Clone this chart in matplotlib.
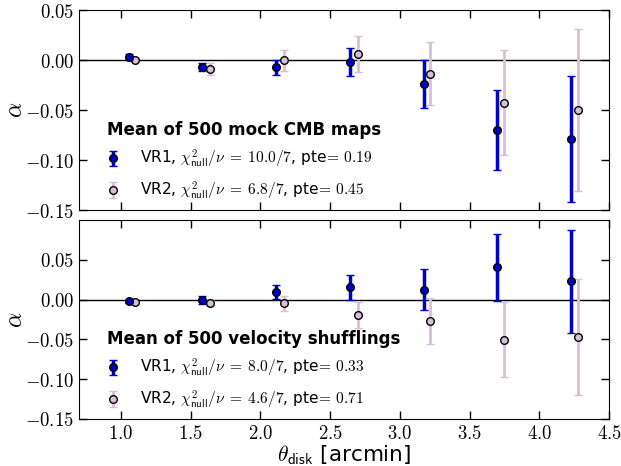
import numpy as np
import matplotlib
matplotlib.use('Agg')
import matplotlib.pyplot as plt
from matplotlib.ticker import FuncFormatter, MultipleLocator

plt.rcParams['mathtext.fontset'] = 'cm'
plt.rcParams['font.family'] = 'DejaVu Sans'

# --- data ---
x_vr1 = [1.06, 1.58, 2.11, 2.64, 3.17, 3.70, 4.23]
x_vr2 = [1.10, 1.64, 2.17, 2.70, 3.22, 3.75, 4.28]

# top: mock CMB maps
cmb_vr1 = [0.0027, -0.0067, -0.0070, -0.0020, -0.0240, -0.0700, -0.0785]
cmb_vr1_err = [0.003, 0.004, 0.0075, 0.014, 0.024, 0.040, 0.063]
cmb_vr2 = [0.0000, -0.0093, -0.0003, 0.0063, -0.0135, -0.0427, -0.0500]
cmb_vr2_err = [0.002, 0.006, 0.0105, 0.018, 0.0315, 0.0525, 0.081]

# bottom: velocity shufflings
vel_vr1 = [-0.0020, 0.0000, 0.0092, 0.0155, 0.0126, 0.0406, 0.0230]
vel_vr1_err = [0.002, 0.005, 0.009, 0.0155, 0.026, 0.042, 0.065]
vel_vr2 = [-0.0034, -0.0040, -0.0046, -0.0190, -0.0264, -0.0506, -0.0473]
vel_vr2_err = [0.002, 0.004, 0.0095, 0.0165, 0.029, 0.047, 0.073]

panels = [
    ('Mean of 500 mock CMB maps', cmb_vr1, cmb_vr1_err, cmb_vr2, cmb_vr2_err,
     ['10.0/7', '0.19'], ['6.8/7', '0.45'], (-0.15, 0.05)),
    ('Mean of 500 velocity shufflings', vel_vr1, vel_vr1_err, vel_vr2, vel_vr2_err,
     ['8.0/7', '0.33'], ['4.6/7', '0.71'], (-0.15, 0.10)),
]

blue = '#0000cc'
pink = '#d8bfd8'

fig = plt.figure(figsize=(6.21, 4.66), dpi=100)
ax_top = fig.add_axes([79/621, 1 - 210/466, 530/621, 200/466])
ax_bot = fig.add_axes([79/621, 1 - 419/466, 530/621, 199/466])

fmt = FuncFormatter(lambda v, p: r'$%.2f$' % v if abs(v) > 1e-9 else r'$0.00$')
xfmt = FuncFormatter(lambda v, p: r'$%.1f$' % v)

def lab(name, chi, pte):
    return (r'%s, $\chi^2_{\mathsf{null}}/\nu\;=\;%s$, pte$\!=\!$ $%s$'
            % (name, chi, pte))

for ax, (title, v1, e1, v2, e2, s1, s2, ylim) in zip([ax_top, ax_bot], panels):
    ax.axhline(0, color='black', lw=1, zorder=1)
    ax.errorbar(x_vr2, v2, yerr=e2, fmt='o', color=pink, mfc=pink, mec='black',
                mew=1, ms=5.5, elinewidth=2, capsize=2.8, capthick=1.5, zorder=2,
                label=lab('VR2', s2[0], s2[1]))
    ax.errorbar(x_vr1, v1, yerr=e1, fmt='o', color=blue, mfc=blue, mec='black',
                mew=1, ms=5.5, elinewidth=2.5, capsize=2.8, capthick=1.5, zorder=3,
                label=lab('VR1', s1[0], s1[1]))
    ax.set_xlim(0.7, 4.5)
    ax.set_ylim(*ylim)
    ax.set_yticks([t for t in np.arange(-0.15, 0.051, 0.05)])
    ax.xaxis.set_major_locator(MultipleLocator(0.5))
    ax.yaxis.set_major_formatter(fmt)
    ax.xaxis.set_major_formatter(xfmt)
    ax.tick_params(direction='in', top=True, right=True, length=6, width=1,
                   labelsize=13.5)
    ax.set_ylabel(r'$\alpha$', fontsize=17)
    ax.yaxis.set_label_coords(-0.098, 0.5)
    h, l = ax.get_legend_handles_labels()
    leg = ax.legend(h[::-1], l[::-1], loc='lower left', frameon=False,
                    fontsize=11.1, title=title, labelspacing=0.6,
                    handlelength=0.8, handletextpad=1.35, markerscale=1.0,
                    borderaxespad=0.15, bbox_to_anchor=(0.037, 0.0))
    leg.get_title().set_fontweight('bold')
    leg.get_title().set_fontsize(12)
    leg._legend_box.align = 'left'

ax_top.tick_params(labelbottom=False)
ax_bot.set_xlabel(r'$\theta_{\mathsf{disk}}$ [arcmin]', fontsize=15.5, labelpad=0)

fig.savefig('out.png', dpi=100)
